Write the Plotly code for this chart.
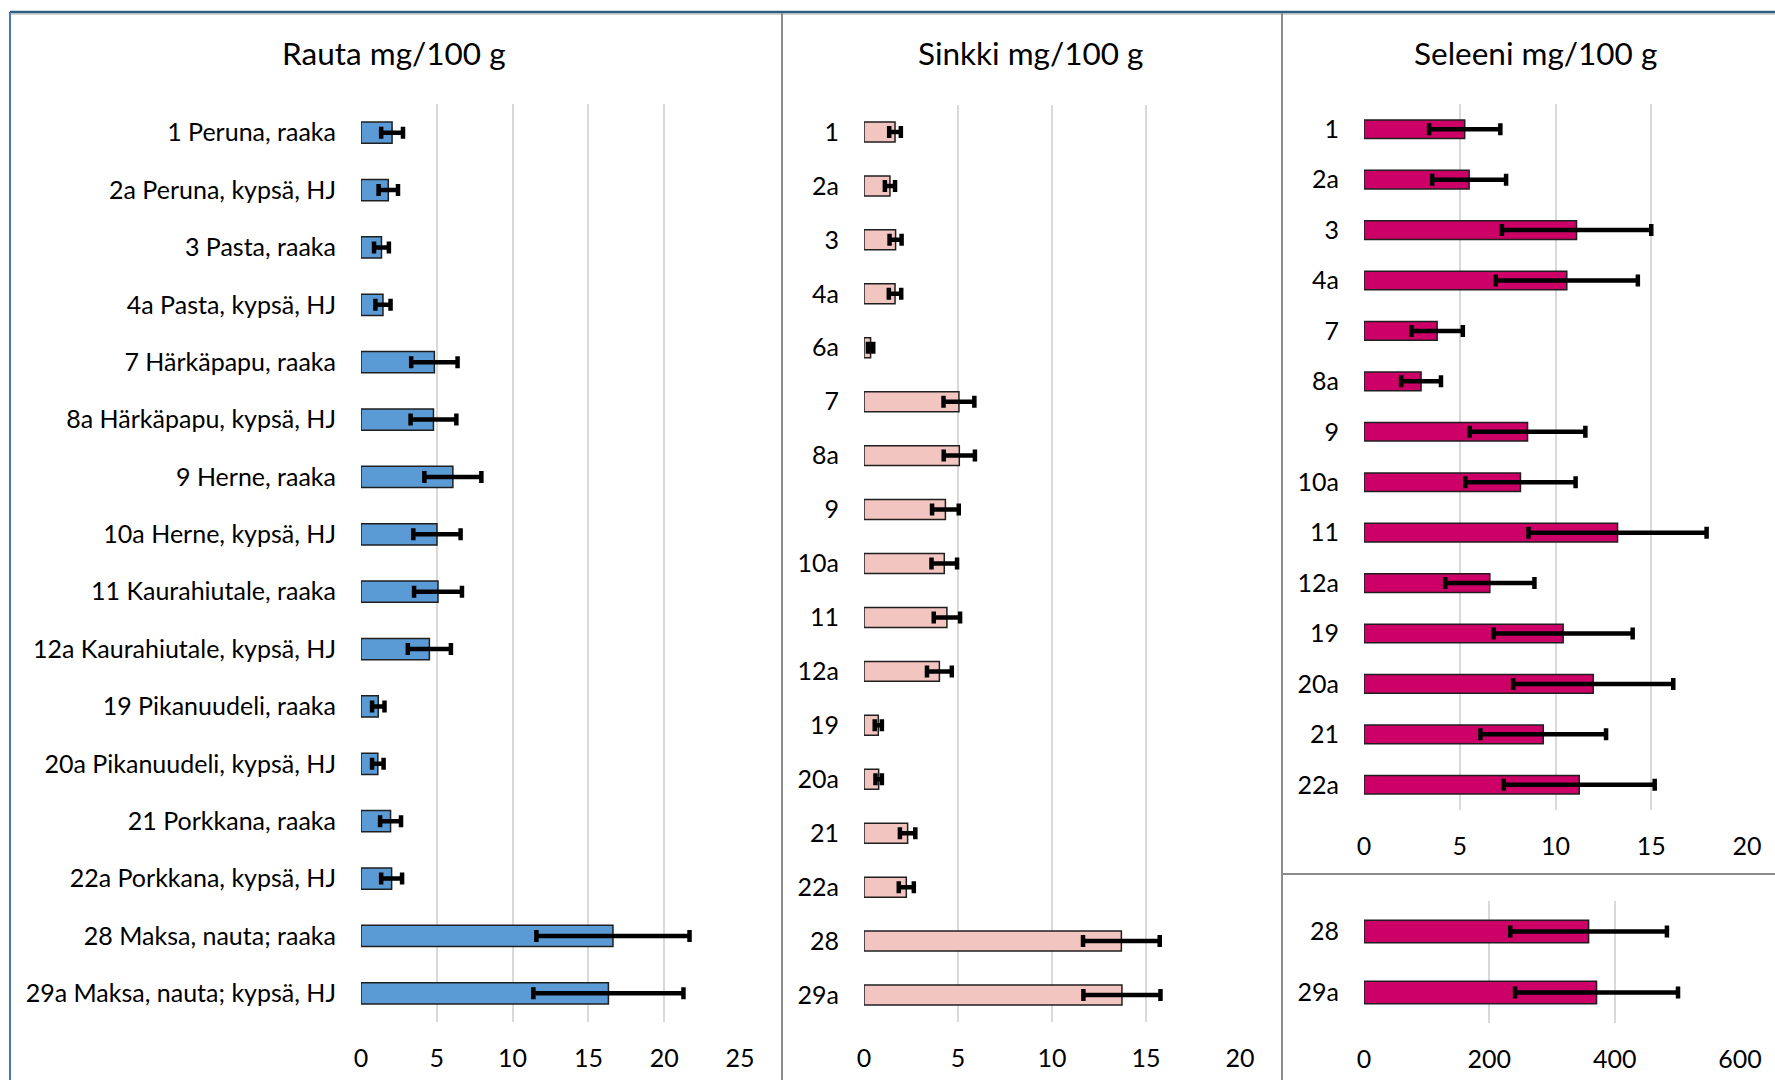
import plotly.graph_objects as go

# Rauta (iron), mg/100 g: mean and standard deviation per food item
rauta_labels = [
    "1 Peruna, raaka", "2a Peruna, kypsä, HJ", "3 Pasta, raaka", "4a Pasta, kypsä, HJ",
    "7 Härkäpapu, raaka", "8a Härkäpapu, kypsä, HJ", "9 Herne, raaka", "10a Herne, kypsä, HJ",
    "11 Kaurahiutale, raaka", "12a Kaurahiutale, kypsä, HJ", "19 Pikanuudeli, raaka",
    "20a Pikanuudeli, kypsä, HJ", "21 Porkkana, raaka", "22a Porkkana, kypsä, HJ",
    "28 Maksa, nauta; raaka", "29a Maksa, nauta; kypsä, HJ",
]
rauta = [2.05, 1.8, 1.35, 1.45, 4.84, 4.78, 6.06, 5.01, 5.08, 4.51, 1.14, 1.11, 1.95, 2.02, 16.62, 16.32]
rauta_sd = [0.72, 0.64, 0.49, 0.5, 1.53, 1.51, 1.88, 1.56, 1.58, 1.42, 0.41, 0.38, 0.69, 0.69, 5.05, 4.95]

# Sinkki (zinc), mg/100 g
sinkki_labels = ["1", "2a", "3", "4a", "6a", "7", "8a", "9", "10a", "11", "12a",
                 "19", "20a", "21", "22a", "28", "29a"]
sinkki = [1.65, 1.38, 1.68, 1.65, 0.35, 5.05, 5.07, 4.33, 4.27, 4.41, 4.01,
          0.76, 0.78, 2.32, 2.25, 13.69, 13.72]
sinkki_sd = [0.31, 0.27, 0.32, 0.33, 0.14, 0.82, 0.83, 0.71, 0.68, 0.70, 0.66,
             0.19, 0.17, 0.41, 0.40, 2.04, 2.05]

# Seleeni (selenium), mg/100 g: plant foods and liver on separate scales
seleeni_labels = ["1", "2a", "3", "4a", "7", "8a", "9", "10a", "11", "12a", "19", "20a", "21", "22a"]
seleeni = [5.26, 5.49, 11.1, 10.59, 3.82, 2.98, 8.54, 8.17, 13.24, 6.57, 10.4, 11.97, 9.36, 11.24]
seleeni_sd = [1.86, 1.93, 3.9, 3.71, 1.34, 1.04, 3.02, 2.88, 4.65, 2.33, 3.63, 4.18, 3.28, 3.94]

maksa_labels = ["28", "29a"]
maksa_seleeni = [358.4, 371.1]
maksa_seleeni_sd = [125, 130]

titles = ["Rauta mg/100 g", "Sinkki mg/100 g", "Seleeni mg/100 g"]

W, H = 1775, 1080
FONT = "Lato"


def px(x):
    return x / W


def py(y):
    return 1 - y / H


def bar(labels, values, sd, color, axis):
    return go.Bar(
        y=labels, x=values, orientation="h",
        marker=dict(color=color, line=dict(color="#1f1f1f", width=1.5)),
        error_x=dict(type="data", array=sd, visible=True, color="black",
                     thickness=4.5, width=6),
        xaxis="x" + axis, yaxis="y" + axis, showlegend=False,
    )


fig = go.Figure()
fig.add_trace(bar(rauta_labels, rauta, rauta_sd, "#5B9BD5", ""))
fig.add_trace(bar(sinkki_labels, sinkki, sinkki_sd, "#F3C5C0", "2"))
fig.add_trace(bar(seleeni_labels, seleeni, seleeni_sd, "#CC0066", "3"))
fig.add_trace(bar(maksa_labels, maksa_seleeni, maksa_seleeni_sd, "#CC0066", "4"))


def xaxis(domain, rng, dtick, anchor):
    return dict(
        domain=[px(domain[0]), px(domain[1])], range=rng, dtick=dtick, anchor=anchor,
        showgrid=True, gridcolor="#D9D9D9", gridwidth=1.5, zeroline=False,
        showline=False, ticks="", ticklabelstandoff=19, automargin=False,
        tickfont=dict(family=FONT, size=25, color="#000000"), fixedrange=True,
    )


def yaxis(top, bottom, anchor):
    return dict(
        domain=[py(bottom), py(top)], type="category", autorange="reversed",
        anchor=anchor, showgrid=False, zeroline=False, showline=False, ticks="",
        ticklabelstandoff=24, automargin=False,
        tickfont=dict(family=FONT, size=25, color="#000000"), fixedrange=True,
    )


fig.update_layout(
    width=W, height=H,
    margin=dict(l=0, r=0, t=0, b=0),
    paper_bgcolor="white", plot_bgcolor="white",
    bargap=0.63,
    xaxis=xaxis((361, 740), [0, 25], 5, "y"),
    yaxis=yaxis(104, 1022, "x"),
    xaxis2=xaxis((864, 1240), [0, 20], 5, "y2"),
    yaxis2=yaxis(105, 1022, "x2"),
    xaxis3=xaxis((1364, 1747), [0, 20], 5, "y3"),
    yaxis3=yaxis(104, 810, "x3"),
    xaxis4=xaxis((1364, 1740), [0, 600], 200, "y4"),
    yaxis4=yaxis(901, 1023, "x4"),
)

# Panel titles
for text, cx in zip(titles, [394, 1031, 1535]):
    fig.add_annotation(text=text, x=px(cx), y=py(53), xref="paper", yref="paper",
                       showarrow=False, xanchor="center", yanchor="middle",
                       font=dict(family=FONT, size=31.5, color="#000000"))

# Panel frames and dividers
frame = [
    dict(x0=px(10), x1=1, y0=py(12), y1=py(12), color="#2F5F80", width=2.5),
    dict(x0=px(10), x1=1, y0=py(14), y1=py(14), color="#A8A8A8", width=1),
    dict(x0=px(10), x1=px(10), y0=py(12), y1=0, color="#4A7BA6", width=2),
    dict(x0=px(782), x1=px(782), y0=py(13), y1=0, color="#8C8C8C", width=2),
    dict(x0=px(1282), x1=px(1282), y0=py(13), y1=0, color="#8C8C8C", width=2),
    dict(x0=px(1282), x1=1, y0=py(874), y1=py(874), color="#8C8C8C", width=2),
]
for f in frame:
    fig.add_shape(type="line", xref="paper", yref="paper",
                  x0=f["x0"], x1=f["x1"], y0=f["y0"], y1=f["y1"],
                  line=dict(color=f["color"], width=f["width"]))

fig.write_html("out.html")
